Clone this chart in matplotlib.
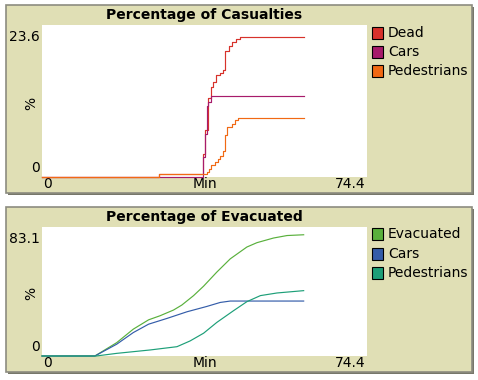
import matplotlib
matplotlib.use("Agg")
import matplotlib.pyplot as plt
from matplotlib.patches import Rectangle

W, H = 478, 380
BG = "#e0dfb5"

# Percentage of Casualties (step series, time in minutes)
cas_dead_t = [0, 26.8, 36.9, 37.3, 38.1, 38.6, 39.1, 39.8, 40.7, 41.4, 42.0, 42.7, 43.4, 44.4, 45.3, 60.0]
cas_dead_v = [0, 0.5, 3.6, 7.3, 12.3, 14.0, 14.8, 15.8, 16.1, 16.6, 19.5, 20.4, 21.0, 21.5, 21.7, 21.7]
cas_cars_t = [0, 36.9, 37.3, 37.7, 38.1, 38.6, 42.0, 60.0]
cas_cars_v = [0, 3.1, 6.7, 11.0, 11.7, 12.5, 12.6, 12.6]
cas_peds_t = [0, 26.8, 37.7, 38.3, 38.8, 39.6, 40.2, 40.7, 41.5, 41.9, 42.4, 43.4, 44.2, 44.9, 60.0]
cas_peds_v = [0, 0.5, 0.8, 1.3, 1.8, 2.4, 2.8, 3.3, 4.1, 6.5, 7.8, 8.3, 8.8, 9.1, 9.1]

# Percentage of Evacuated
ev_t = [0, 12.1, 17.1, 20.9, 24.4, 27.0, 30.1, 32.0, 34.7, 37.0, 40.0, 43.1, 46.9, 49.2, 53.0, 56.1, 59.9]
ev_v = [0, 0, 8.6, 17.3, 23.3, 25.9, 29.6, 32.8, 38.9, 45.0, 54.0, 62.6, 70.2, 73.0, 76.0, 77.6, 78.1]
ev_cars_t = [0, 12.1, 17.1, 20.9, 24.4, 28.6, 33.2, 37.7, 40.8, 43.1, 59.9]
ev_cars_v = [0, 0, 7.6, 15.1, 20.5, 24.2, 28.5, 31.9, 34.5, 35.4, 35.4]
ev_peds_t = [0, 12.4, 17.1, 24.8, 30.9, 33.9, 37.0, 40.0, 43.8, 46.9, 50.0, 53.8, 59.9]
ev_peds_v = [0, 0, 1.7, 3.9, 6.0, 9.7, 14.7, 21.6, 29.1, 35.0, 38.9, 40.6, 42.1]

fig = plt.figure(figsize=(W / 100, H / 100), dpi=100)
fig.patch.set_facecolor("white")


def fx(x):
    return x / W


def fy(y):
    return 1 - y / H


def panel(box, area, title, xmax, ymax, series, legend_y):
    x0, y0, x1, y1 = box
    # widget box with a darker shadow on the right/bottom
    fig.patches.append(Rectangle((fx(x0 + 2), fy(y1 + 2)), fx(x1 - x0), (y1 - y0) / H,
                                 transform=fig.transFigure, facecolor="#77776a",
                                 edgecolor="none", zorder=-2))
    fig.patches.append(Rectangle((fx(x0), fy(y1)), fx(x1 - x0), (y1 - y0) / H,
                                 transform=fig.transFigure, facecolor=BG,
                                 edgecolor="#8c8c80", lw=1.2, zorder=-1))
    ax0, ay0, ax1, ay1 = area
    ax = fig.add_axes([fx(ax0), fy(ay1), fx(ax1 - ax0), (ay1 - ay0) / H])
    ax.set_zorder(5)
    ax.set_facecolor("white")
    ax.set_xlim(0, xmax)
    ax.set_ylim(0, ymax)
    for t, v, c, steps in series:
        ax.plot(t, v, color=c, lw=0.85, drawstyle="steps-post" if steps else "default",
                clip_on=False)
    ax.set_xticks([])
    ax.set_yticks([])
    for s in ax.spines.values():
        s.set_visible(False)
    fs = 10
    fig.text(fx((ax0 + ax1) / 2), fy(ay0 - 10), title, ha="center", va="center",
             fontsize=fs, fontweight="bold")
    fig.text(fx(ax0 - 2), fy(ay0 + 12), f"{ymax}", ha="right", va="center", fontsize=fs)
    fig.text(fx(ax0 - 2), fy(ay1 - 9), "0", ha="right", va="center", fontsize=fs)
    fig.text(fx(ax0 - 11), fy((ay0 + ay1) / 2 + 2), "%", ha="center", va="center",
             fontsize=fs, rotation=90)
    fig.text(fx(ax0 + 1), fy(ay1 + 7), "0", ha="left", va="center", fontsize=fs)
    fig.text(fx((ax0 + ax1) / 2), fy(ay1 + 7), "Min", ha="center", va="center", fontsize=fs)
    fig.text(fx(ax1 - 1), fy(ay1 + 7), f"{xmax}", ha="right", va="center", fontsize=fs)
    for (t, v, c, _), (name, ly) in zip(series, legend_y):
        fig.patches.append(Rectangle((fx(372), fy(ly + 6)), fx(11), 12 / H,
                                     transform=fig.transFigure, facecolor=c,
                                     edgecolor="black", lw=0.8, zorder=3))
        fig.text(fx(388), fy(ly), name, ha="left", va="center", fontsize=fs)
    return ax


panel((6, 5, 472, 193), (42, 25, 367, 177), "Percentage of Casualties", 74.4, 23.6,
      [(cas_dead_t, cas_dead_v, "#d7322b", True),
       (cas_cars_t, cas_cars_v, "#a71b6b", True),
       (cas_peds_t, cas_peds_v, "#f16914", True)],
      [("Dead", 33), ("Cars", 52), ("Pedestrians", 71)])

panel((6, 207, 472, 372), (42, 227, 367, 356), "Percentage of Evacuated", 74.4, 83.1,
      [(ev_t, ev_v, "#59b03c", False),
       (ev_cars_t, ev_cars_v, "#345da9", False),
       (ev_peds_t, ev_peds_v, "#1d9f78", False)],
      [("Evacuated", 234), ("Cars", 254), ("Pedestrians", 273)])

fig.savefig("out.png", dpi=100, facecolor=fig.get_facecolor())
